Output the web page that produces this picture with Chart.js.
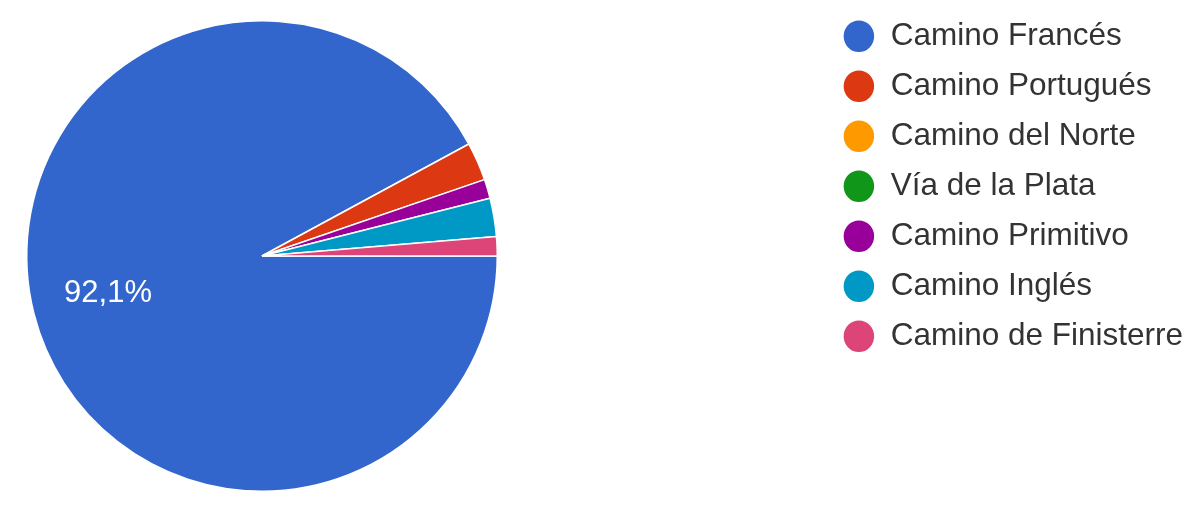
<!DOCTYPE html>
<html>
<head>
<meta charset="utf-8">
<script src="https://cdn.jsdelivr.net/npm/chart.js@4/dist/chart.umd.min.js"></script>
<style>
  html, body { margin: 0; padding: 0; background: #ffffff; }
  #wrap { position: relative; width: 1200px; height: 510px; }
</style>
</head>
<body>
<div id="wrap"><canvas id="c" width="1200" height="510"></canvas></div>
<script>
const categories = ["Camino Francés", "Camino Portugués", "Camino del Norte", "Vía de la Plata", "Camino Primitivo", "Camino Inglés", "Camino de Finisterre"];
const responses = [70, 2, 0, 0, 1, 2, 1];
const sliceColors = ["#3366cc", "#dc3912", "#ff9900", "#109618", "#990099", "#0099c6", "#dd4477"];

const pieAreaPlugin = {
  id: 'pieArea',
  afterLayout(chart, args, opts) {
    const a = chart.chartArea;
    a.left = opts.left; a.top = opts.top;
    a.right = opts.right; a.bottom = opts.bottom;
    a.width = a.right - a.left; a.height = a.bottom - a.top;
  }
};

const sliceLabelPlugin = {
  id: 'sliceLabel',
  afterDatasetsDraw(chart, args, opts) {
    const meta = chart.getDatasetMeta(0);
    const data = chart.data.datasets[0].data;
    const total = data.reduce((s, v) => s + v, 0);
    const ctx = chart.ctx;
    meta.data.forEach((arc, i) => {
      const pct = data[i] / total * 100;
      if (pct < opts.minPct) return;
      const p = arc.getProps(['x', 'y', 'outerRadius'], true);
      const ang = opts.angle * Math.PI / 180;
      const x = p.x + Math.cos(ang) * p.outerRadius * opts.dist;
      const y = p.y + Math.sin(ang) * p.outerRadius * opts.dist;
      ctx.save();
      ctx.fillStyle = '#ffffff';
      ctx.font = opts.font;
      ctx.textAlign = 'center';
      ctx.textBaseline = 'middle';
      ctx.fillText(pct.toFixed(1).replace('.', ',') + '%', x, y);
      ctx.restore();
    });
  }
};

new Chart(document.getElementById('c'), {
  type: 'pie',
  data: {
    labels: categories,
    datasets: [{
      data: responses,
      backgroundColor: sliceColors,
      borderColor: '#ffffff',
      borderWidth: 1.5
    }]
  },
  options: {
    responsive: false,
    animation: false,
    rotation: 90,
    layout: { padding: { top: 2, right: 7, bottom: 0, left: 0 } },
    plugins: {
      pieArea: { left: 26, top: 20, right: 498, bottom: 492 },
      sliceLabel: { minPct: 10, angle: 166.2, dist: 0.674, font: '31px "Liberation Sans", Arial, sans-serif' },
      tooltip: { enabled: false },
      legend: {
        position: 'right',
        align: 'start',
        labels: {
          usePointStyle: true,
          pointStyle: 'circle',
          boxWidth: 23.5,
          boxHeight: 23.5,
          pointStyleWidth: 32,
          padding: 18.5,
          color: '#333333',
          font: { family: '"Liberation Sans", Arial, sans-serif', size: 31.5 }
        }
      }
    }
  },
  plugins: [pieAreaPlugin, sliceLabelPlugin]
});
</script>
</body>
</html>
